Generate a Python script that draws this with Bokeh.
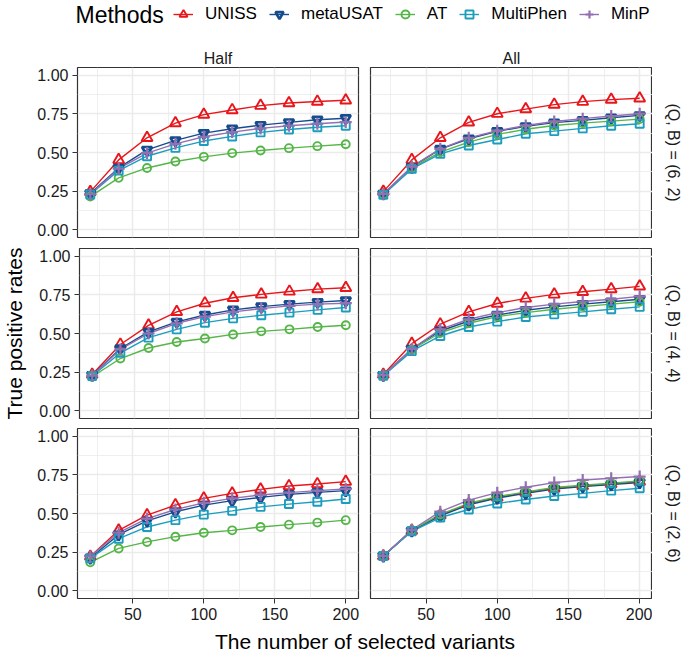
from bokeh.plotting import figure
from bokeh.models import (Range1d, FixedTicker, NumeralTickFormatter, Legend,
                          LegendItem, Label, ColumnDataSource)
from bokeh.layouts import column, row
from bokeh.embed import file_html
from bokeh.resources import INLINE
import math

# ---------------- data ----------------
n_variants = [20, 40, 60, 80, 100, 120, 140, 160, 180, 200]
methods = ["UNISS", "metaUSAT", "AT", "MultiPhen", "MinP"]
col_labels = ["Half", "All"]
row_labels = ["(Q, B) = (6, 2)", "(Q, B) = (4, 4)", "(Q, B) = (2, 6)"]

q6b2_half = {
    "UNISS":     [0.245, 0.452, 0.595, 0.690, 0.745, 0.775, 0.803, 0.820, 0.830, 0.838],
    "metaUSAT":  [0.235, 0.400, 0.517, 0.578, 0.625, 0.654, 0.677, 0.695, 0.712, 0.722],
    "AT":        [0.215, 0.336, 0.400, 0.442, 0.472, 0.496, 0.513, 0.528, 0.541, 0.553],
    "MultiPhen": [0.228, 0.383, 0.476, 0.530, 0.574, 0.604, 0.630, 0.649, 0.663, 0.673],
    "MinP":      [0.230, 0.395, 0.496, 0.556, 0.602, 0.632, 0.656, 0.673, 0.686, 0.697],
}
q6b2_all = {
    "UNISS":     [0.247, 0.452, 0.595, 0.695, 0.751, 0.781, 0.810, 0.829, 0.842, 0.851],
    "metaUSAT":  [0.232, 0.405, 0.522, 0.589, 0.637, 0.669, 0.693, 0.708, 0.725, 0.740],
    "AT":        [0.228, 0.400, 0.502, 0.567, 0.617, 0.650, 0.675, 0.690, 0.703, 0.716],
    "MultiPhen": [0.226, 0.394, 0.491, 0.545, 0.584, 0.621, 0.638, 0.656, 0.673, 0.686],
    "MinP":      [0.232, 0.409, 0.524, 0.595, 0.641, 0.675, 0.701, 0.719, 0.736, 0.751],
}
q4b4_half = {
    "UNISS":     [0.235, 0.429, 0.553, 0.640, 0.696, 0.731, 0.753, 0.772, 0.787, 0.796],
    "metaUSAT":  [0.230, 0.403, 0.510, 0.575, 0.620, 0.653, 0.674, 0.690, 0.703, 0.714],
    "AT":        [0.220, 0.338, 0.406, 0.445, 0.468, 0.494, 0.514, 0.527, 0.542, 0.553],
    "MultiPhen": [0.225, 0.375, 0.473, 0.527, 0.570, 0.598, 0.618, 0.635, 0.653, 0.668],
    "MinP":      [0.228, 0.397, 0.500, 0.566, 0.609, 0.640, 0.661, 0.679, 0.690, 0.696],
}
q4b4_all = {
    "UNISS":     [0.235, 0.434, 0.560, 0.640, 0.694, 0.727, 0.753, 0.770, 0.787, 0.805],
    "metaUSAT":  [0.230, 0.400, 0.516, 0.581, 0.620, 0.650, 0.672, 0.690, 0.705, 0.722],
    "AT":        [0.228, 0.395, 0.505, 0.566, 0.609, 0.635, 0.657, 0.674, 0.690, 0.705],
    "MultiPhen": [0.226, 0.386, 0.484, 0.542, 0.577, 0.607, 0.624, 0.640, 0.657, 0.672],
    "MinP":      [0.230, 0.400, 0.527, 0.592, 0.635, 0.668, 0.690, 0.707, 0.722, 0.740],
}
q2b6_half = {
    "UNISS":     [0.222, 0.391, 0.489, 0.554, 0.598, 0.630, 0.656, 0.678, 0.691, 0.706],
    "metaUSAT":  [0.212, 0.363, 0.452, 0.511, 0.554, 0.583, 0.604, 0.624, 0.637, 0.648],
    "AT":        [0.184, 0.274, 0.316, 0.350, 0.375, 0.391, 0.413, 0.428, 0.441, 0.457],
    "MultiPhen": [0.210, 0.337, 0.413, 0.457, 0.493, 0.517, 0.543, 0.561, 0.576, 0.594],
    "MinP":      [0.222, 0.376, 0.467, 0.526, 0.569, 0.598, 0.620, 0.635, 0.648, 0.659],
}
q2b6_all = {
    "UNISS":     [0.225, 0.390, 0.489, 0.561, 0.604, 0.635, 0.663, 0.678, 0.691, 0.706],
    "metaUSAT":  [0.225, 0.388, 0.485, 0.556, 0.600, 0.630, 0.658, 0.674, 0.687, 0.701],
    "AT":        [0.225, 0.392, 0.494, 0.566, 0.609, 0.640, 0.668, 0.683, 0.696, 0.711],
    "MultiPhen": [0.225, 0.385, 0.474, 0.526, 0.565, 0.591, 0.613, 0.630, 0.648, 0.663],
    "MinP":      [0.225, 0.395, 0.512, 0.587, 0.635, 0.670, 0.700, 0.717, 0.728, 0.739],
}
panels = [[q6b2_half, q6b2_all], [q4b4_half, q4b4_all], [q2b6_half, q2b6_all]]

x_major = [50, 100, 150, 200]
x_minor = [25, 75, 125, 175]
y_major = [0.0, 0.25, 0.5, 0.75, 1.0]
y_minor = [0.125, 0.375, 0.625, 0.875]

# ---------------- styles ----------------
FONT = "Liberation Sans"
colors = {"UNISS": "#E8161B", "metaUSAT": "#164C8E", "AT": "#55B548",
          "MultiPhen": "#1C9DBE", "MinP": "#9470B3"}
markers = {"UNISS": "triangle", "metaUSAT": "inverted_triangle", "AT": "circle",
           "MultiPhen": "square", "MinP": "cross"}
msizes = {"UNISS": 11, "metaUSAT": 10, "AT": 8, "MultiPhen": 8, "MinP": 12}
mwidths = {"UNISS": 1.9, "metaUSAT": 2.7, "AT": 1.9, "MultiPhen": 1.9, "MinP": 2.2}

W = 685
HL = 40          # legend strip height
HT = 25          # x title strip height
BL = 77          # left border
FWL = 281        # left frame width
FWR = 282        # right frame width
GAPL = 6
GAPR = 6
BR = 33          # width of the right strip-label column
FH = 170         # frame height
ROW_TOP = [27, 6, 5]
ROW_BOT = [5, 5, 30]
X_LO, X_HI = 11, 209
Y_LO, Y_HI = -0.05, 1.05
STRIP_OFFSET_PX = 21


def make_panel(data, r, c):
    left = c == 0
    width = BL + FWL + GAPL if left else GAPR + FWR
    height = ROW_TOP[r] + FH + ROW_BOT[r]
    p = figure(width=width, height=height, x_range=Range1d(X_LO, X_HI),
               y_range=Range1d(Y_LO, Y_HI), toolbar_location=None,
               output_backend="svg", title=(col_labels[c] if r == 0 else None),
               min_border_left=(BL if left else GAPR),
               min_border_right=(GAPL if left else 0),
               min_border_top=ROW_TOP[r], min_border_bottom=ROW_BOT[r])
    p.background_fill_color = "white"
    p.border_fill_color = "white"
    p.outline_line_color = "#333333"
    p.outline_line_width = 1.2

    if r == 0:
        p.title.align = "center"
        p.title.text_font = FONT
        p.title.text_font_size = "16px"
        p.title.text_font_style = "normal"
        p.title.text_color = "#1A1A1A"
        p.title.standoff = 1

    xt = FixedTicker(ticks=x_major, minor_ticks=x_minor)
    yt = FixedTicker(ticks=y_major, minor_ticks=y_minor)
    p.xaxis.ticker = xt
    p.yaxis.ticker = yt
    p.xgrid.ticker = xt
    p.ygrid.ticker = yt
    for g in (p.xgrid, p.ygrid):
        g.grid_line_color = "#EBEBEB"
        g.grid_line_width = 1.5
        g.minor_grid_line_color = "#EBEBEB"
        g.minor_grid_line_width = 0.8

    for ax in (p.xaxis, p.yaxis):
        ax.axis_line_color = None
        ax.major_tick_line_color = "#333333"
        ax.major_tick_line_width = 1
        ax.major_tick_out = 5
        ax.major_tick_in = 0
        ax.minor_tick_line_color = None
        ax.major_label_text_font = FONT
        ax.major_label_text_font_size = "16px"
        ax.major_label_text_color = "#1A1A1A"
    p.yaxis.formatter = NumeralTickFormatter(format="0.00")
    p.yaxis.major_label_standoff = 4
    p.xaxis.major_label_standoff = 4

    if not left:
        p.yaxis.visible = False
    if r != 2:
        p.xaxis.visible = False
    if left and r == 1:
        p.yaxis.axis_label = "True positive rates"
        p.yaxis.axis_label_text_font = FONT
        p.yaxis.axis_label_text_font_size = "21px"
        p.yaxis.axis_label_text_font_style = "normal"
        p.yaxis.axis_label_text_color = "#000000"
        p.yaxis.axis_label_standoff = 10

    sources = {m: ColumnDataSource(data=dict(x=n_variants, y=data[m])) for m in methods}
    for m in methods:
        p.line("x", "y", source=sources[m], line_color=colors[m], line_width=1.4)
    for m in methods:
        p.scatter("x", "y", source=sources[m], marker=markers[m], size=msizes[m],
                  line_color=colors[m], line_width=mwidths[m], fill_color=None)
    return p


def blank_fig(w, h):
    f = figure(width=w, height=h, x_range=Range1d(0, w), y_range=Range1d(0, h),
               toolbar_location=None, output_backend="svg", title=None, min_border=0)
    f.xaxis.visible = False
    f.yaxis.visible = False
    f.grid.visible = False
    f.outline_line_color = None
    return f


rows = []
for r in range(3):
    rows.append(row(make_panel(panels[r][0], r, 0), make_panel(panels[r][1], r, 1)))

# ---------------- right strip labels ----------------
rows_h = sum(ROW_TOP) + sum(ROW_BOT) + 3 * FH
sf = blank_fig(BR, rows_h)
top = 0
for r in range(3):
    center_from_top = top + ROW_TOP[r] + FH / 2
    sf.add_layout(Label(x=STRIP_OFFSET_PX, y=rows_h - center_from_top, text=row_labels[r],
                        angle=-math.pi / 2, text_align="center", text_baseline="middle",
                        text_font=FONT, text_font_size="16px", text_color="#1A1A1A"))
    top += ROW_TOP[r] + FH + ROW_BOT[r]

# ---------------- legend strip ----------------
lf = blank_fig(W, HL)
items = []
for m in methods:
    # legend key renderers (hidden; only their keys are shown)
    src = ColumnDataSource(data=dict(x=n_variants, y=q6b2_half[m]))
    lr = lf.line("x", "y", source=src, line_color=colors[m], line_width=1.4)
    sr = lf.scatter("x", "y", source=src, marker=markers[m], size=msizes[m],
                    line_color=colors[m], line_width=mwidths[m], fill_color=None)
    lr.visible = False
    sr.visible = False
    items.append(LegendItem(label=m, renderers=[lr, sr]))
leg = Legend(items=items, orientation="horizontal", location=(173, 16),
             label_text_font=FONT, label_text_font_size="17px",
             label_text_color="#000000", glyph_width=20, glyph_height=20,
             label_height=20, label_standoff=12, spacing=12, padding=0, margin=0,
             border_line_color=None, background_fill_color=None,
             inactive_fill_alpha=0.0)
lf.add_layout(leg, "center")
lf.add_layout(Label(x=75, y=HL - 14, text="Methods", text_align="left",
                    text_baseline="middle", text_font=FONT, text_font_size="23px",
                    text_color="#000000"))

# ---------------- x title strip ----------------
tf = blank_fig(W, HT)
center_x = (BL + (BL + FWL + GAPL + GAPR + FWR)) / 2
tf.add_layout(Label(x=center_x, y=12, text="The number of selected variants",
                    text_align="center", text_baseline="middle", text_font=FONT,
                    text_font_size="21px", text_color="#000000"))

layout = column(lf, row(column(*rows), sf), tf)
open("out.html", "w").write(file_html(layout, INLINE))
